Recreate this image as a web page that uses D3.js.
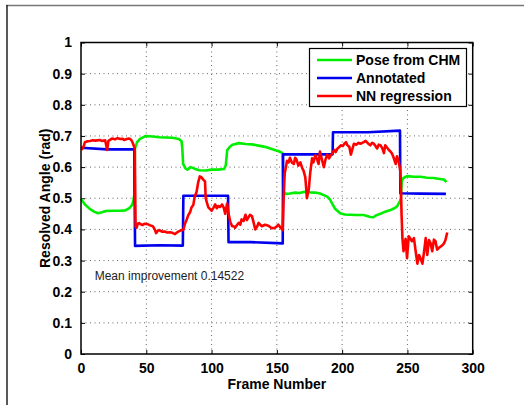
<!DOCTYPE html>
<html>
<head>
<meta charset="utf-8">
<script src="https://cdn.jsdelivr.net/npm/d3@7"></script>
<style>
  body { margin: 0; background: #fff; }
  svg { display: block; font-family: "Liberation Sans", Arial, Helvetica, sans-serif; }
</style>
</head>
<body>
<div id="chart"></div>
<script>
"use strict";

// Series values, as [frame, angle] pairs
const poseCHM = [
  [0, 0.498], [3, 0.48], [7, 0.465], [10, 0.457], [13, 0.452], [16, 0.455], [19, 0.459],
  [25, 0.46], [30, 0.46], [34, 0.461], [37, 0.468], [39, 0.478], [40, 0.49], [40.8, 0.51],
  [41.3, 0.66], [43, 0.68], [45, 0.69], [49.6, 0.70], [55, 0.698], [60, 0.696], [65, 0.695],
  [70, 0.694], [75, 0.69], [77, 0.683], [77.6, 0.66], [78.2, 0.61], [80, 0.596], [81.5, 0.592],
  [84, 0.60], [87, 0.595], [90.5, 0.59], [95.6, 0.589], [100, 0.592], [105, 0.592],
  [109.6, 0.594], [110.9, 0.606], [112, 0.655], [114, 0.665], [116, 0.672], [121, 0.677],
  [126, 0.674], [131, 0.673], [136, 0.669], [141, 0.665], [146, 0.658], [152, 0.65],
  [154.3, 0.645], [155, 0.52], [157, 0.514], [160, 0.515], [164, 0.518], [167.5, 0.517],
  [171, 0.521], [175.3, 0.519], [180, 0.518], [183, 0.515], [186, 0.51], [188.5, 0.505],
  [190.7, 0.496], [192.5, 0.482], [194.6, 0.466], [198.5, 0.452], [202, 0.448], [206, 0.447],
  [211, 0.446], [216.5, 0.446], [219, 0.443], [221.6, 0.44], [224, 0.439], [226, 0.445],
  [229.3, 0.45], [233, 0.457], [237, 0.462], [240, 0.468], [242.1, 0.474], [244.2, 0.49],
  [245, 0.5], [245.7, 0.557], [247, 0.565], [249.7, 0.571], [255, 0.569], [260, 0.569],
  [265, 0.566], [270, 0.565], [275, 0.562], [277.9, 0.56], [280, 0.552]
];

const annotated = [
  [0, 0.662], [20, 0.657], [40.8, 0.657], [41.4, 0.347], [60, 0.349], [78, 0.348],
  [78.4, 0.508], [95, 0.508], [112.6, 0.508], [113, 0.359], [130, 0.359], [154.5, 0.355],
  [154.8, 0.641], [175, 0.641], [192.7, 0.641], [193, 0.712], [220, 0.712], [244.3, 0.717],
  [244.6, 0.516], [260, 0.515], [279.5, 0.514]
];

const nnRegression = [
  [0.5, 0.655], [2, 0.666], [3, 0.68], [5, 0.683], [7, 0.684], [9, 0.686], [11, 0.685],
  [14.5, 0.687], [16, 0.684], [18.5, 0.686], [19.3, 0.67], [20, 0.655], [20.6, 0.672],
  [21, 0.684], [22.5, 0.688], [24, 0.692], [26, 0.689], [28, 0.693], [30, 0.69], [32, 0.691],
  [33, 0.687], [35, 0.69], [37, 0.692], [38.5, 0.687], [39.5, 0.679], [40.5, 0.668],
  [41.2, 0.66], [41.8, 0.41], [42.5, 0.405], [43.5, 0.418], [44.5, 0.42], [46, 0.416],
  [47, 0.414], [48.5, 0.418], [51, 0.417], [53, 0.413], [55, 0.41], [56.5, 0.4], [57.5, 0.388],
  [58.7, 0.395], [60, 0.398], [62, 0.393], [64, 0.393], [66, 0.39], [68, 0.391], [70, 0.389],
  [72, 0.385], [73.5, 0.39], [74.5, 0.393], [76.5, 0.397], [78.3, 0.398], [79.6, 0.418],
  [81, 0.432], [82, 0.444], [83.5, 0.455], [84.6, 0.47], [86, 0.478], [87, 0.503],
  [88.5, 0.52], [89.7, 0.55], [91, 0.57], [92.3, 0.567], [93.5, 0.56], [95, 0.554],
  [95.5, 0.50], [96.5, 0.485], [97.6, 0.47], [99, 0.465], [100, 0.46], [101.5, 0.47],
  [102.8, 0.48], [104, 0.468], [105, 0.475], [106.5, 0.472], [108, 0.48], [109.3, 0.47],
  [110.5, 0.45], [111.9, 0.483], [113, 0.45], [114.3, 0.425], [115.7, 0.41], [117, 0.41],
  [118, 0.405], [119.5, 0.414], [120.8, 0.421], [122, 0.415], [123, 0.432], [124.5, 0.427],
  [126, 0.447], [127, 0.43], [128, 0.437], [129.5, 0.447], [131, 0.442], [132.3, 0.42],
  [133.5, 0.40], [135, 0.41], [136, 0.421], [137.3, 0.415], [138.5, 0.41], [141, 0.415],
  [143.6, 0.412], [146, 0.404], [148.6, 0.405], [150, 0.41], [151.2, 0.415], [153, 0.405],
  [154.5, 0.398], [155.2, 0.5], [156, 0.58], [157, 0.60], [157.7, 0.62], [159, 0.615],
  [160, 0.63], [161.5, 0.615], [163, 0.61], [164, 0.63], [165, 0.625], [166.5, 0.605],
  [168, 0.615], [169.3, 0.598], [170.5, 0.588], [171.8, 0.567], [172.5, 0.53], [173, 0.5],
  [174, 0.52], [174.5, 0.53], [175.5, 0.58], [177, 0.628], [178, 0.615], [179.5, 0.638],
  [180.8, 0.625], [182, 0.61], [183, 0.65], [184.5, 0.625], [186, 0.6], [187.3, 0.625],
  [188.6, 0.64], [190, 0.628], [191, 0.635], [192.5, 0.645], [194, 0.655], [195, 0.648],
  [196.5, 0.66], [198, 0.665], [199, 0.67], [200.5, 0.668], [201.7, 0.675], [203, 0.68],
  [204, 0.67], [205.5, 0.665], [206.7, 0.64], [208, 0.66], [209, 0.675], [211, 0.672],
  [212.5, 0.678], [214, 0.675], [215.5, 0.678], [216.6, 0.68], [218, 0.684], [220, 0.675],
  [221.6, 0.67], [223, 0.678], [224, 0.676], [225.5, 0.668], [226.8, 0.66], [228, 0.672],
  [229.4, 0.67], [230.8, 0.66], [232, 0.645], [233, 0.67], [234.5, 0.662], [235.8, 0.655],
  [237, 0.65], [238, 0.645], [239.5, 0.63], [241, 0.61], [242, 0.635], [243.2, 0.62],
  [244.5, 0.59], [245, 0.54], [245.5, 0.45], [246.2, 0.37], [247, 0.33], [247.8, 0.35],
  [248.6, 0.37], [249.7, 0.308], [251, 0.378], [252.3, 0.37], [253.5, 0.362], [255, 0.372],
  [256.3, 0.33], [257.6, 0.29], [258.9, 0.318], [260, 0.307], [261.5, 0.29], [262.8, 0.33],
  [264, 0.372], [265.2, 0.318], [266.5, 0.366], [267.8, 0.355], [269, 0.33], [270.3, 0.367],
  [271.5, 0.362], [272.8, 0.335], [274, 0.34], [275.5, 0.345], [277, 0.35], [278, 0.355],
  [279.2, 0.367], [280.5, 0.39]
];

const series = [
  { name: "Pose from CHM", color: "#00ee00", values: poseCHM },
  { name: "Annotated", color: "#0000ee", values: annotated },
  { name: "NN regression", color: "#ff0000", values: nnRegression }
];

const xTicks = [0, 50, 100, 150, 200, 250, 300];
const yTicks = [0, 0.1, 0.2, 0.3, 0.4, 0.5, 0.6, 0.7, 0.8, 0.9, 1];
const note = "Mean improvement 0.14522";

const width = 529, height = 405;
const plot = { left: 81, right: 472.7, top: 42.5, bottom: 354 };

const svg = d3.select("#chart").append("svg")
    .attr("width", width)
    .attr("height", height);

// Page frame (only the top and left edges show)
svg.append("line")
    .attr("x1", 6).attr("y1", 5.5).attr("x2", 524).attr("y2", 5.5)
    .style("stroke", "#777").style("stroke-width", 1.5);
svg.append("line")
    .attr("x1", 7).attr("y1", 5).attr("x2", 7).attr("y2", height)
    .style("stroke", "#222").style("stroke-width", 1.5);

let x = d3.scaleLinear().domain([0, 300]).range([plot.left, plot.right]);
let y = d3.scaleLinear().domain([0, 1]).range([plot.bottom, plot.top]);

// Dotted grid
let grid = svg.append("g").attr("class", "grid")
    .style("stroke", "#666")
    .style("stroke-width", 1)
    .style("stroke-dasharray", "1 3.5");

grid.selectAll("line.gx")
    .data(xTicks.slice(1, -1))
  .enter().append("line")
    .attr("x1", d => x(d)).attr("x2", d => x(d))
    .attr("y1", plot.top).attr("y2", plot.bottom);

grid.selectAll("line.gy")
    .data(yTicks.slice(1, -1))
  .enter().append("line")
    .attr("x1", plot.left).attr("x2", plot.right)
    .attr("y1", d => y(d)).attr("y2", d => y(d));

// Axes, ticks pointing inwards like MATLAB
let bottomAxis = d3.axisBottom(x).tickValues(xTicks).tickSizeInner(-4).tickSizeOuter(0).tickPadding(9);
let leftAxis = d3.axisLeft(y).tickValues(yTicks).tickSizeInner(-4).tickSizeOuter(0).tickPadding(9)
    .tickFormat(d3.format("~g"));
let topAxis = d3.axisTop(x).tickValues(xTicks).tickSizeInner(-4).tickSizeOuter(0).tickFormat("");
let rightAxis = d3.axisRight(y).tickValues(yTicks).tickSizeInner(-4).tickSizeOuter(0).tickFormat("");

function styleAxis(g) {
    g.select(".domain").remove();
    g.selectAll("line").style("stroke", "#000").style("stroke-width", 1);
    g.selectAll("text")
        .style("font-size", "14px")
        .style("font-weight", "bold")
        .style("fill", "#000")
        .style("font-family", "'Liberation Sans', Arial, sans-serif");
}

svg.append("g").attr("transform", "translate(0," + plot.bottom + ")").call(bottomAxis).call(styleAxis);
svg.append("g").attr("transform", "translate(" + plot.left + ",0)").call(leftAxis).call(styleAxis);
svg.append("g").attr("transform", "translate(0," + plot.top + ")").call(topAxis).call(styleAxis);
svg.append("g").attr("transform", "translate(" + plot.right + ",0)").call(rightAxis).call(styleAxis);

// Series lines
let line = d3.line()
    .x(d => x(d[0]))
    .y(d => y(d[1]));

svg.append("g").attr("class", "lines")
    .selectAll("path")
    .data(series)
  .enter().append("path")
    .attr("d", d => line(d.values))
    .style("fill", "none")
    .style("stroke", d => d.color)
    .style("stroke-width", 2.6)
    .style("stroke-linejoin", "round");

// Axis box
svg.append("rect")
    .attr("x", plot.left).attr("y", plot.top)
    .attr("width", plot.right - plot.left)
    .attr("height", plot.bottom - plot.top)
    .style("fill", "none")
    .style("stroke", "#000")
    .style("stroke-width", 1.5);

// Axis labels
svg.append("text")
    .attr("x", (plot.left + plot.right) / 2)
    .attr("y", 389)
    .attr("text-anchor", "middle")
    .style("font-size", "14px")
    .style("font-weight", "bold")
    .text("Frame Number");

svg.append("text")
    .attr("transform", "translate(50," + (plot.top + plot.bottom) / 2 + ") rotate(-90)")
    .attr("text-anchor", "middle")
    .style("font-size", "14px")
    .style("font-weight", "bold")
    .text("Resolved Angle (rad)");

// Annotation
svg.append("text")
    .attr("x", x(10.5))
    .attr("y", y(0.238))
    .style("font-size", "12px")
    .style("fill", "#222")
    .text(note);

// Legend
let legend = svg.append("g").attr("class", "legend");
legend.append("rect")
    .attr("x", 309.5).attr("y", 48.5)
    .attr("width", 157).attr("height", 58)
    .style("fill", "#fff")
    .style("stroke", "#000")
    .style("stroke-width", 1.2);

let rows = legend.selectAll("g.row")
    .data(series)
  .enter().append("g")
    .attr("transform", (d, i) => "translate(0," + (60 + i * 18) + ")");

rows.append("line")
    .attr("x1", 317).attr("x2", 352)
    .attr("y1", 0).attr("y2", 0)
    .style("stroke", d => d.color)
    .style("stroke-width", 2.6);

rows.append("text")
    .attr("x", 356)
    .attr("y", 0)
    .attr("dy", "0.35em")
    .style("font-size", "14px")
    .style("font-weight", "bold")
    .text(d => d.name);
</script>
</body>
</html>
